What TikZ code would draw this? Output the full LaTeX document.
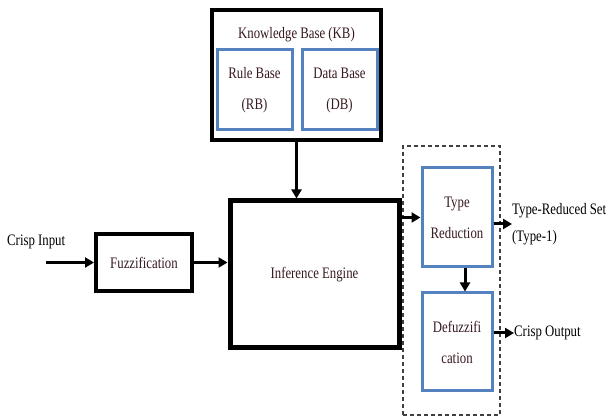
\documentclass[tikz,border=0pt]{standalone}
\usepackage{fontspec}
\setmainfont{Liberation Serif}[FakeStretch=0.8]
\usepackage{xcolor}
\usetikzlibrary{shapes,arrows.meta,positioning}
\definecolor{boxblue}{RGB}{84,130,190}
\definecolor{boxtext}{RGB}{55,25,30}

\begin{document}
\begin{tikzpicture}[
    x=1pt, y=1pt,
    blackbox/.style={rectangle, draw=black, line width=4pt, font=\fontsize{16}{29}\selectfont, text=boxtext, align=center, inner sep=0pt},
    bluebox/.style={rectangle, draw=boxblue, line width=3pt, fill=white, font=\fontsize{16}{31}\selectfont, text=boxtext, align=center, inner sep=0pt},
    arrow/.style={-{Triangle[length=9pt,width=10pt]}, line width=3pt},
    lbl/.style={font=\fontsize{16}{27}\selectfont, align=left, inner sep=0pt, anchor=west},
]
    \useasboundingbox (0,0) rectangle (609,419);

    % Knowledge base
    \node[blackbox, minimum width=169pt, minimum height=130pt] (kb) at (296.5,344) {};
    \node[font=\fontsize{16}{16}\selectfont, text=boxtext] (kbtitle) at (296.5,384) {Knowledge Base (KB)};
    \node[bluebox, minimum width=75pt, minimum height=80pt] (rb) at (254.5,329) {Rule Base\\(RB)};
    \node[bluebox, minimum width=75pt, minimum height=80pt, right=7pt of rb] (db) {Data Base\\(DB)};

    % Main chain
    \node[blackbox, line width=5pt, minimum width=169pt, minimum height=147pt] (ie) at (314.5,144.5) {Inference Engine};
    \node[blackbox, minimum width=96pt, minimum height=57pt] (fuz) at (144,156.5) {Fuzzification};
    \coordinate (cin) at (46,156.5);
    \node[lbl] (cinlbl) at (7,177) {Crisp Input};

    % Output processing
    \node[rectangle, draw=black!75, line width=1.2pt, dash pattern=on 4pt off 3pt, minimum width=97pt, minimum height=269pt] (tred) at (451.5,138.5) {};
    \node[bluebox, minimum width=70pt, minimum height=99pt] (tr) at (457,201.5) {Type\\Reduction};
    \node[bluebox, minimum width=70pt, minimum height=98pt, below=23pt of tr] (df) {Defuzzifi\\cation};
    \node[lbl] (trset) at (512,195) {Type-Reduced Set\\(Type-1)};
    \node[lbl] (cout) at (514,86) {Crisp Output};

    % Arrows
    \draw[arrow] (kb) -- (kb |- ie.north);
    \draw[arrow] (cin) -- (fuz);
    \draw[arrow] (fuz) -- (fuz -| ie.west);
    \draw[arrow] (ie.east |- tr) -- (tr);
    \draw[arrow] ([xshift=8pt]tr.south) -- ([xshift=8pt]df.north);
    \draw[arrow] (tr.east |- trset.west) -- (trset.west);
    \draw[arrow] (df.east |- cout.west) -- (cout.west);
\end{tikzpicture}
\end{document}
